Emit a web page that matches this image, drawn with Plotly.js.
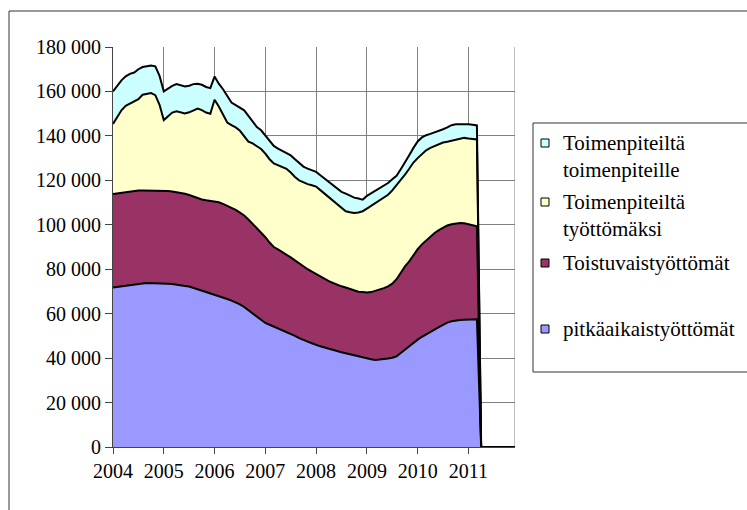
<!DOCTYPE html>
<html>
<head>
<meta charset="utf-8">
<script src="https://cdn.plot.ly/plotly-3.0.1.min.js"></script>
<style>
  html, body { margin: 0; padding: 0; background: #fff; }
  #chart { width: 747px; height: 510px; }
</style>
</head>
<body>
<div id="chart"></div>
<script>
// monthly 2004-01 ... 2011-03, thousands
var years = ['2004', '2005', '2006', '2007', '2008', '2009', '2010', '2011'];

var pitkaaikais = [71.8,72.1,72.3,72.5,72.8,73.1,73.3,73.6,73.8,73.8,73.8,73.7,
  73.6,73.5,73.4,73.2,72.9,72.5,72.2,71.6,71.1,70.4,69.8,69.3,
  68.6,67.9,67.3,66.6,65.9,65.2,64.2,63.0,61.6,60.3,58.9,57.3,
  55.8,55.0,54.2,53.4,52.6,51.9,50.9,50.0,49.0,48.1,47.4,46.7,
  45.9,45.3,44.8,44.2,43.7,43.1,42.6,42.2,41.7,41.3,40.8,40.3,
  39.8,39.5,39.2,39.3,39.6,39.8,40.2,40.8,42.3,43.9,45.4,46.9,
  48.3,49.6,50.6,51.6,52.8,53.9,55.0,56.0,56.6,57.0,57.2,57.3,
  57.4,57.5,57.5];

var toistuvais = [42.1,42.1,42.2,42.3,42.3,42.2,42.1,41.8,41.6,41.6,41.6,41.7,
  41.8,41.7,41.6,41.5,41.5,41.5,41.2,41.1,40.9,41.0,41.2,41.5,
  42.0,42.2,42.1,41.9,41.8,41.5,41.3,41.2,40.8,40.2,39.6,39.1,
  38.6,37.0,35.8,35.5,35.2,34.7,34.4,34.0,33.6,33.2,32.6,32.2,
  31.9,31.3,30.6,30.4,30.1,29.9,29.7,29.6,29.5,29.2,29.1,29.4,
  29.7,30.2,31.0,31.5,31.9,32.5,33.3,34.7,36.2,37.4,38.1,39.6,
  40.7,41.6,42.4,43.2,43.5,43.7,43.8,43.7,43.6,43.6,43.6,43.4,
  43.0,42.3,41.8];

var tyottomaksi = [31.5,34.3,37.0,38.7,39.4,40.0,41.1,43.1,43.4,43.9,42.9,38.6,
  31.7,33.6,35.5,36.4,36.2,36.1,37.2,38.9,40.3,40.2,39.5,39.2,
  45.7,43.1,40.1,37.5,37.1,37.1,36.8,35.6,35.0,36.1,37.0,37.7,
  37.6,37.5,37.6,38.0,38.2,38.6,38.2,37.5,37.4,37.7,38.3,38.9,
  39.4,39.0,38.6,37.7,37.0,36.3,35.2,34.3,34.4,34.8,35.6,36.4,
  37.8,38.8,39.4,40.2,40.8,41.2,42.0,42.3,41.3,41.3,41.7,41.5,
  41.0,40.6,40.5,39.8,39.2,38.7,38.2,37.7,37.7,37.8,38.1,38.4,
  38.4,38.7,39.1];

var toimenpiteille = [14.6,14.0,13.5,13.3,13.4,13.2,13.5,12.5,12.7,12.4,13.0,13.0,
  12.9,12.5,12.0,12.2,12.0,12.1,12.0,11.7,11.2,11.4,11.5,11.5,
  10.4,10.3,11.5,11.8,10.2,10.0,10.3,11.7,11.6,9.9,8.5,8.4,
  8.0,8.0,7.9,7.4,7.3,7.1,7.7,8.0,7.8,7.2,7.0,6.8,
  6.6,6.7,6.8,6.7,6.8,6.7,7.3,7.9,7.4,6.9,6.3,5.2,
  5.7,5.7,5.7,5.4,5.3,5.3,5.0,4.2,5.2,5.9,6.1,6.6,
  7.5,7.5,6.8,6.3,6.0,5.9,6.0,6.4,6.9,6.8,6.4,6.2,
  6.4,6.5,6.3];

// legend, top to bottom
var legendLabels = ['Toimenpiteilt\u00e4<br>toimenpiteille',
  'Toimenpiteilt\u00e4<br>ty\u00f6tt\u00f6m\u00e4ksi',
  'Toistuvaisty\u00f6tt\u00f6m\u00e4t',
  'pitk\u00e4aikaisty\u00f6tt\u00f6m\u00e4t'];
var colors = ['#9999FF', '#993366', '#FFFFCC', '#CCFFFF'];   // bottom to top

var yMax = 180000, yStep = 20000;
var nMonths = years.length * 12;
var x = [];
for (var i = 0; i < nMonths; i++) x.push(i);

function padded(arr) {
  var out = arr.map(function (v) { return v * 1000; });
  while (out.length < nMonths) out.push(0);
  return out;
}

var series = [pitkaaikais, toistuvais, tyottomaksi, toimenpiteille];
var data = [];
var running = x.map(function () { return 0; });
series.forEach(function (s, k) {
  var vals = padded(s);
  running = running.map(function (r, j) { return r + vals[j]; });
  data.push({
    x: x,
    y: running.slice(),
    type: 'scatter',
    mode: 'lines',
    fill: k === 0 ? 'tozeroy' : 'tonexty',
    line: {color: '#000000', width: 2},
    fillcolor: colors[k],
    showlegend: false
  });
});

var yTicks = [], yText = [];
for (var v = 0; v <= yMax; v += yStep) {
  yTicks.push(v);
  yText.push(String(v).replace(/\B(?=(\d{3})+(?!\d))/g, ' '));
}

var px = function (p) { return (p - 113) / 402; };
var py = function (p) { return (447 - p) / 400; };
var itemY = [143, 202, 263, 329];
var legendFill = [colors[3], colors[2], colors[1], colors[0]];
var shapes = [
  {type: 'line', xref: 'x', yref: 'paper', x0: nMonths - 1, x1: nMonths - 1, y0: 0, y1: 1,
    line: {color: 'gray', width: 1}, layer: 'below'},
  {type: 'line', xref: 'paper', yref: 'paper', x0: px(533), x1: px(747), y0: py(123), y1: py(123), line: {color: '#333333', width: 1}},
  {type: 'line', xref: 'paper', yref: 'paper', x0: px(533), x1: px(533), y0: py(123), y1: py(372), line: {color: '#333333', width: 1}},
  {type: 'line', xref: 'paper', yref: 'paper', x0: px(533), x1: px(747), y0: py(372), y1: py(372), line: {color: '#333333', width: 1}},
  {type: 'line', xref: 'paper', yref: 'paper', x0: px(9), x1: px(747), y0: py(11), y1: py(11), line: {color: '#333333', width: 1}},
  {type: 'line', xref: 'paper', yref: 'paper', x0: px(9), x1: px(9), y0: py(11), y1: py(510), line: {color: '#333333', width: 1}}
];
var annotations = [];
legendLabels.forEach(function (lab, k) {
  var cy = itemY[k];
  shapes.push({type: 'rect', xref: 'paper', yref: 'paper',
    x0: px(541), x1: px(549), y0: py(cy + 4), y1: py(cy - 4),
    fillcolor: legendFill[k], line: {color: '#000000', width: 1}});
  var lines = lab.split('<br>').length;
  annotations.push({text: lab, xref: 'paper', yref: 'paper',
    x: px(561), y: py(cy + (lines - 1) * 13.6), xanchor: 'left', yanchor: 'middle',
    align: 'left', showarrow: false,
    font: {family: 'Liberation Serif', size: 21, color: '#000000'}});
});

var layout = {
  width: 747,
  height: 510,
  margin: {l: 113, r: 232, t: 47, b: 63, autoexpand: false},
  font: {family: 'Liberation Serif', size: 20, color: '#000000'},
  showlegend: false,
  xaxis: {
    range: [0, nMonths - 1],
    tickmode: 'array',
    tickvals: years.map(function (y, k) { return k * 12; }),
    ticktext: years,
    ticks: 'outside',
    ticklen: 6,
    showline: true,
    showgrid: true,
    gridcolor: 'gray',
    zeroline: false
  },
  yaxis: {
    range: [0, yMax],
    tickmode: 'array',
    tickvals: yTicks,
    ticktext: yText,
    ticks: 'outside',
    ticklen: 7,
    showline: true,
    showgrid: true,
    gridcolor: 'gray',
    zeroline: false
  },
  shapes: shapes,
  annotations: annotations
};

Plotly.newPlot('chart', data, layout, {displayModeBar: false});
</script>
</body>
</html>
